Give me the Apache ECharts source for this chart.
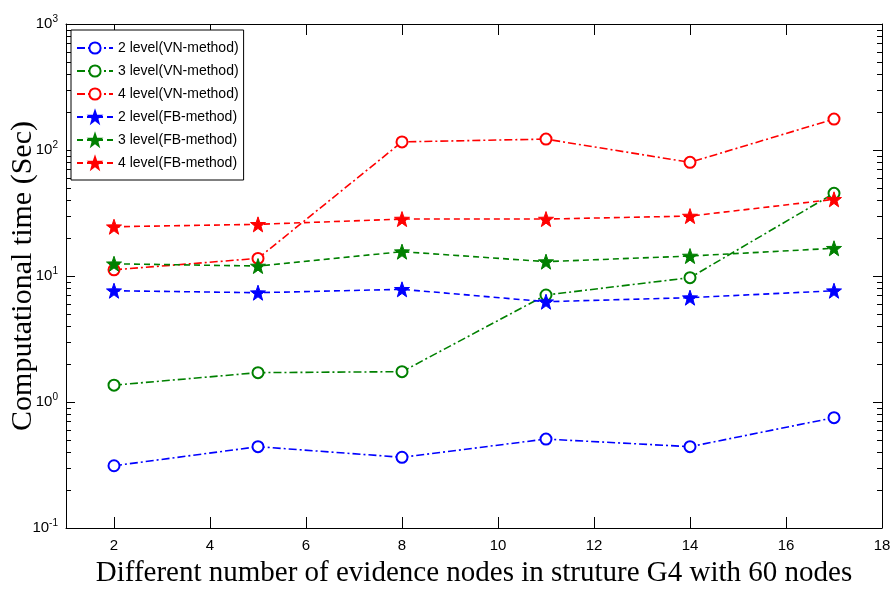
<!DOCTYPE html>
<html>
<head>
<meta charset="utf-8">
<script src="https://cdn.jsdelivr.net/npm/echarts@6/dist/echarts.min.js"></script>
<style>
  html, body { margin: 0; padding: 0; background: #fff; }
  #chart { width: 893px; height: 592px; }
</style>
</head>
<body>
<div id="chart"></div>
<script>
// Number of evidence nodes (x positions)
const evidenceNodes = [2, 5, 8, 11, 14, 17];

// Computational time in seconds
const vnLevel2 = [0.312, 0.442, 0.364, 0.508, 0.442, 0.751];
const vnLevel3 = [1.36, 1.71, 1.74, 7.07, 9.7, 45.3];
const vnLevel4 = [11.2, 13.8, 116, 122, 79.8, 176];
const fbLevel2 = [7.64, 7.37, 7.84, 6.25, 6.73, 7.64];
const fbLevel3 = [12.5, 12.0, 15.6, 13.0, 14.4, 16.6];
const fbLevel4 = [24.6, 25.7, 28.3, 28.3, 29.9, 40.6];

const seriesNames = [
  '2 level(VN-method)', '3 level(VN-method)', '4 level(VN-method)',
  '2 level(FB-method)', '3 level(FB-method)', '4 level(FB-method)'
];

// Axis tick labels
const xTickValues = [2, 4, 6, 8, 10, 12, 14, 16, 18];
const yDecades = [0.1, 1, 10, 100, 1000];

const xTitle = 'Different number of evidence nodes in struture G4 with 60 nodes';
const yTitle = 'Computational time (Sec)';

// minor ticks of the log axis: 2..9 within each decade
const minorTickValues = [];
for (let e = -1; e <= 2; e++) {
  for (let k = 2; k <= 9; k++) minorTickValues.push(+(k * Math.pow(10, e)).toPrecision(3));
}

const STAR = 'path://M50 0 L61.76 33.82 L97.55 34.55 L69.02 56.18 L79.39 90.45 L50 70 L20.61 90.45 L30.98 56.18 L2.45 34.55 L38.24 33.82 Z';
const DASH_DOT = [8, 3, 2, 3];
const DASHED = [6, 4];

function pairs(ys) { return evidenceNodes.map((x, i) => [x, ys[i]]); }

function makeSeries(name, ys, color, isVN) {
  return {
    name: name,
    type: 'line',
    xAxisIndex: 0,
    yAxisIndex: 0,
    data: pairs(ys),
    symbol: isVN ? 'emptyCircle' : STAR,
    symbolSize: isVN ? 11 : 15,
    showSymbol: true,
    lineStyle: { color: color, width: 1.6, type: isVN ? DASH_DOT : DASHED },
    itemStyle: isVN ? { color: color, borderColor: color, borderWidth: 1.6 } : { color: color, borderColor: color, borderWidth: 1 },
    emphasis: { disabled: true },
    animation: false,
    z: 3
  };
}

const chart = echarts.init(document.getElementById('chart'), null, { renderer: 'canvas' });

const tickFont = '"Liberation Sans", Arial, sans-serif';
const titleFont = '"Liberation Serif", "Times New Roman", serif';

function sideAxis(position, ticks, len) {
  return {
    type: 'log', logBase: 10, min: 0.1, max: 1000, position: position,
    axisLine: { show: false },
    axisTick: { show: true, inside: true, length: len, customValues: ticks, lineStyle: { color: '#000' } },
    axisLabel: { show: false },
    splitLine: { show: false }
  };
}

const option = {
  backgroundColor: '#fff',
  animation: false,
  grid: { left: 66, right: 11, top: 24, bottom: 64, containLabel: false, outerBoundsMode: 'none' },
  legend: {
    orient: 'vertical',
    left: 71,
    top: 30,
    data: seriesNames,
    backgroundColor: '#fff',
    borderColor: '#000',
    borderWidth: 1,
    padding: [11, 5, 10, 5],
    itemGap: 9,
    itemWidth: 36,
    itemHeight: 14,
    textStyle: { fontFamily: '"Liberation Sans Narrow", "Liberation Sans", Arial, sans-serif', fontSize: 14, color: '#000' }
  },
  xAxis: [
    {
      type: 'value', min: 1, max: 18, position: 'bottom',
      name: xTitle, nameLocation: 'middle', nameGap: 31, nameMoveOverlap: false,
      nameTextStyle: { fontFamily: titleFont, fontSize: 29, color: '#000' },
      axisLine: { lineStyle: { color: '#000', width: 1 } },
      axisTick: { inside: true, length: 11, customValues: xTickValues, lineStyle: { color: '#000' } },
      axisLabel: { customValues: xTickValues, color: '#000', fontFamily: tickFont, fontSize: 15, margin: 10 },
      splitLine: { show: false }
    },
    {
      type: 'value', min: 1, max: 18, position: 'top',
      axisLine: { lineStyle: { color: '#000', width: 1 } },
      axisTick: { inside: true, length: 11, customValues: xTickValues, lineStyle: { color: '#000' } },
      axisLabel: { show: false },
      splitLine: { show: false }
    }
  ],
  yAxis: [
    {
      type: 'log', logBase: 10, min: 0.1, max: 1000, position: 'left',
      name: yTitle, nameLocation: 'middle', nameGap: 28, nameRotate: 90, nameMoveOverlap: false,
      nameTextStyle: { fontFamily: titleFont, fontSize: 30, color: '#000' },
      axisLine: { lineStyle: { color: '#000', width: 1 } },
      axisTick: { inside: true, length: 9, customValues: yDecades, lineStyle: { color: '#000' } },
      axisLabel: {
        customValues: yDecades,
        margin: 8,
        formatter: function (v) {
          const e = Math.round(Math.log10(v));
          return '{b|10}{s|' + e + '}';
        },
        rich: {
          b: { fontFamily: tickFont, fontSize: 15, color: '#000' },
          s: { fontFamily: tickFont, fontSize: 10, color: '#000', padding: [0, 0, 10, 0] }
        }
      },
      splitLine: { show: false }
    },
    {
      type: 'log', logBase: 10, min: 0.1, max: 1000, position: 'right',
      axisLine: { lineStyle: { color: '#000', width: 1 } },
      axisTick: { inside: true, length: 9, customValues: yDecades, lineStyle: { color: '#000' } },
      axisLabel: { show: false },
      splitLine: { show: false }
    },
    sideAxis('left', minorTickValues, 5),
    sideAxis('right', minorTickValues, 5)
  ],
  series: [
    makeSeries(seriesNames[0], vnLevel2, '#0000ff', true),
    makeSeries(seriesNames[1], vnLevel3, '#008000', true),
    makeSeries(seriesNames[2], vnLevel4, '#ff0000', true),
    makeSeries(seriesNames[3], fbLevel2, '#0000ff', false),
    makeSeries(seriesNames[4], fbLevel3, '#008000', false),
    makeSeries(seriesNames[5], fbLevel4, '#ff0000', false)
  ]
};

chart.setOption(option);
</script>
</body>
</html>
